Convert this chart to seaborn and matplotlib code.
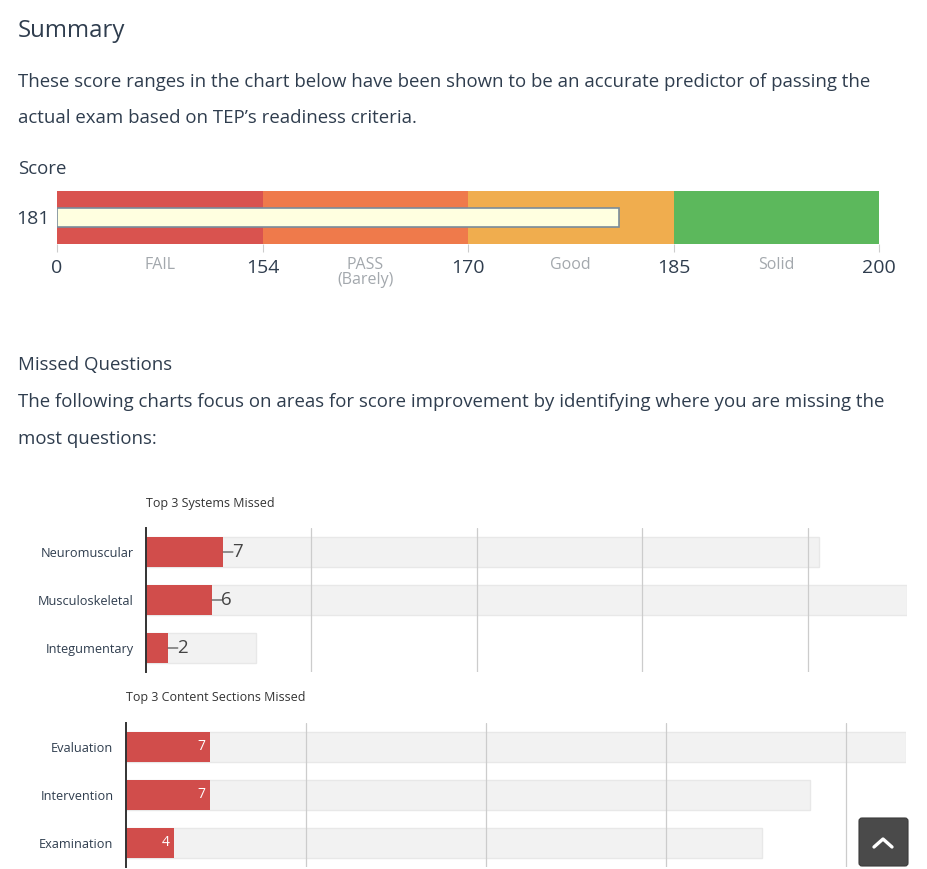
import numpy as np
import seaborn as sns
import matplotlib.pyplot as plt
from matplotlib.patches import FancyBboxPatch
from matplotlib.lines import Line2D
from matplotlib.transforms import IdentityTransform

# score gauge
band_edges = [0, 154, 170, 185, 200]
band_pos = [0, 50, 100, 150, 200]
band_names = ['FAIL', 'PASS\n(Barely)', 'Good', 'Solid']
band_colors = ['#d9534f', '#ef7a4b', '#f0ad4e', '#5cb85c']
score = 181

# missed question charts
systems = ['Neuromuscular', 'Musculoskeletal', 'Integumentary']
systems_missed = [7, 6, 2]
systems_total = [61, 69, 10]

sections = ['Evaluation', 'Intervention', 'Examination']
sections_missed = [7, 7, 4]
sections_total = [65, 57, 53]

W, H = 927, 869
TEXT = '#2f3d4e'
RED = '#d14d4b'
GREY_BAR = '#f2f2f2'

sns.set_style('white')
plt.rcParams['font.family'] = ['Open Sans', 'DejaVu Sans']

fig = plt.figure(figsize=(W / 100, H / 100), dpi=100)
fig.patch.set_facecolor('white')


def px_axes(left, top, right, bottom):
    return fig.add_axes([left / W, 1 - bottom / H, (right - left) / W, (bottom - top) / H])


def px_text(x, y, s, **kw):
    kw.setdefault('color', TEXT)
    kw.setdefault('va', 'center')
    fig.text(x / W, 1 - y / H, s, **kw)


# page text
px_text(18, 31, 'Summary', fontsize=17.3)
px_text(18, 82, 'These score ranges in the chart below have been shown to be an accurate predictor of passing the', fontsize=13.45)
px_text(18, 118, 'actual exam based on TEP\u2019s readiness criteria.', fontsize=13.45)
px_text(18, 169, 'Score', fontsize=13.45)
px_text(18, 365, 'Missed Questions', fontsize=13.45)
px_text(18, 402, 'The following charts focus on areas for score improvement by identifying where you are missing the', fontsize=13.45)
px_text(18, 439, 'most questions:', fontsize=13.45)

# ---- score gauge ----
ax = px_axes(57, 191, 879, 244)
fwd = lambda v: np.interp(v, band_edges, band_pos)
inv = lambda p: np.interp(p, band_pos, band_edges)
ax.set_xscale('function', functions=(fwd, inv))
for lo, hi, c in zip(band_edges[:-1], band_edges[1:], band_colors):
    ax.barh(0, hi - lo, left=lo, height=1, color=c, linewidth=0)
ax.barh(0, score, height=0.36, color='#ffffe0', edgecolor='#7a8c9c', linewidth=1.2)
ax.set_xlim(0, 200)
ax.set_ylim(-0.5, 0.5)
ax.set_xticks(band_edges)
ax.set_xticklabels([str(e) for e in band_edges], fontsize=14, color=TEXT)
ax.tick_params(axis='x', length=6, color='#cccccc', pad=4.5, bottom=True)
ax.set_yticks([0])
ax.set_yticklabels([str(score)], fontsize=14, color=TEXT)
ax.tick_params(axis='y', length=0, pad=5)
for s in ax.spines.values():
    s.set_visible(False)
for lo, hi, name in zip(band_edges[:-1], band_edges[1:], band_names):
    ax.annotate(name, xy=((lo + hi) / 2, 0), xycoords=('data', 'axes fraction'),
                xytext=(0, -9.5), textcoords='offset points', ha='center', va='top',
                fontsize=11.5, color='#a3a8ad', linespacing=0.9)


def missed_chart(box, cats, missed, total, xmax, title, title_x, title_y, inside):
    ax = px_axes(*box)
    sns.barplot(x=total, y=cats, color=GREY_BAR, edgecolor='#e8e8e8', linewidth=1,
                saturation=1, width=0.62, orient='h', ax=ax)
    sns.barplot(x=missed, y=cats, color=RED, linewidth=0,
                saturation=1, width=0.62, orient='h', ax=ax)
    ax.set_xlim(0, xmax)
    ax.set_xticks([15, 30, 45, 60])
    ax.set_xticklabels([])
    ax.grid(axis='x', color='#cccccc', linewidth=0.9)
    ax.grid(axis='y', visible=False)
    ax.set_axisbelow(False)
    ax.tick_params(axis='x', length=0)
    ax.tick_params(axis='y', length=0, pad=9, labelsize=9.2, labelcolor=TEXT)
    ax.set_xlabel('')
    ax.set_ylabel('')
    for side in ['top', 'right', 'bottom']:
        ax.spines[side].set_visible(False)
    ax.spines['left'].set_color('#333333')
    ax.spines['left'].set_linewidth(1.4)
    for i, v in enumerate(missed):
        if inside:
            ax.annotate(str(v), xy=(v, i), xytext=(-3, 0), textcoords='offset points',
                        ha='right', va='center', fontsize=10, color='white')
        else:
            ax.annotate('', xy=(v, i), xytext=(7, 0), textcoords='offset points',
                        arrowprops=dict(arrowstyle='-', color='#555555', lw=0.9,
                                        shrinkA=0, shrinkB=0))
            ax.annotate(str(v), xy=(v, i), xytext=(6.5, 0), textcoords='offset points',
                        ha='left', va='center', fontsize=13.5, color='#444444')
    px_text(title_x, title_y, title, fontsize=9.0, color='#333333')


missed_chart((146, 528, 907, 672), systems, systems_missed, systems_total, 69,
             'Top 3 Systems Missed', 146, 503, inside=False)
missed_chart((126, 723, 906, 867), sections, sections_missed, sections_total, 65,
             'Top 3 Content Sections Missed', 126, 698, inside=True)

# back-to-top button
btn = FancyBboxPatch((859, H - 866), 49, 48, boxstyle='round,pad=0,rounding_size=3',
                     facecolor='#4a4a4a', edgecolor='#3a3a3a', linewidth=0.8,
                     transform=IdentityTransform())
fig.add_artist(btn)
fig.add_artist(Line2D([874, 883, 892], [H - 847, H - 839, H - 847], color='white',
                      linewidth=2.4, solid_capstyle='round', solid_joinstyle='round',
                      transform=IdentityTransform()))

fig.savefig('out.png', dpi=100, facecolor='white')
